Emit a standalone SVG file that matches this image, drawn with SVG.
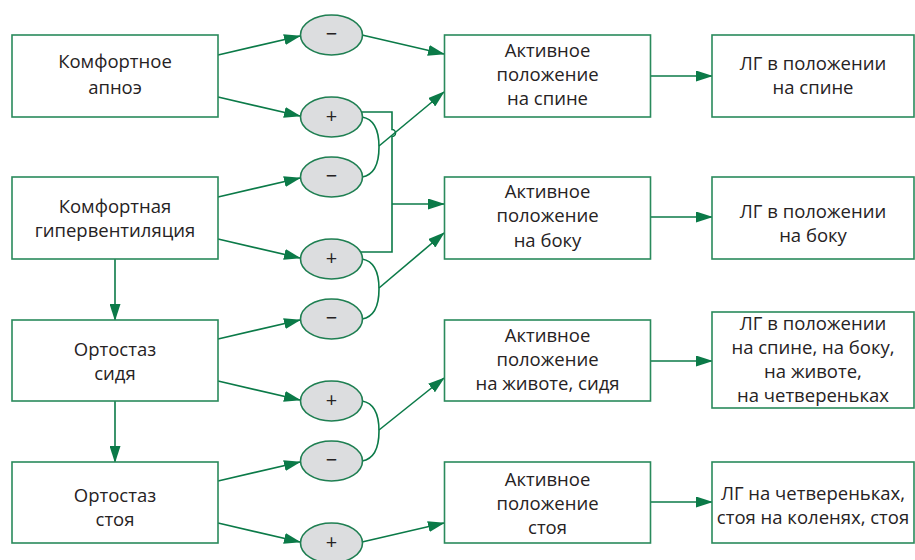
<svg xmlns="http://www.w3.org/2000/svg" width="915" height="560" viewBox="0 0 915 560">
  <style>
    .box { fill: #ffffff; stroke: #2a8a5c; stroke-width: 1.6; }
    .oval { fill: #dcdddf; stroke: #1f7f52; stroke-width: 1.6; }
    .lbl { font-family: "Open Sans", "Noto Sans", sans-serif; font-size: 18.5px; fill: #262223; text-anchor: middle; }
    .sign { font-family: "Open Sans", "Noto Sans", sans-serif; font-size: 20px; fill: #262223; text-anchor: middle; }
    .wire { fill: none; stroke: #0b7a48; stroke-width: 1.6; }
    .arr { fill: none; stroke: #0b7a48; stroke-width: 1.6; marker-end: url(#head); }
  </style>
  <defs>
    <marker id="head" viewBox="0 0 17 11" refX="16" refY="5.5" markerWidth="17" markerHeight="11" markerUnits="userSpaceOnUse" orient="auto">
      <path d="M0,0 L17,5.5 L0,11 Z" fill="#0b7a48"/>
    </marker>
  </defs>

  <rect width="915" height="560" fill="#ffffff"/>

  <!-- connectors -->
  <g id="connectors">
    <!-- left column to oval nodes -->
    <line class="arr" x1="218" y1="55" x2="300" y2="36"/>
    <line class="arr" x1="218" y1="97" x2="300" y2="116"/>
    <line class="arr" x1="218" y1="197" x2="300" y2="178"/>
    <line class="arr" x1="218" y1="239" x2="300" y2="258"/>
    <line class="arr" x1="218" y1="339" x2="300" y2="320"/>
    <line class="arr" x1="218" y1="381" x2="300" y2="400"/>
    <line class="arr" x1="218" y1="481" x2="300" y2="462"/>
    <line class="arr" x1="218" y1="523" x2="300" y2="542"/>

    <!-- vertical flow in the left column -->
    <line class="arr" x1="115" y1="259" x2="115" y2="320"/>
    <line class="arr" x1="115" y1="401" x2="115" y2="462"/>

    <!-- oval nodes to the middle column -->
    <line class="arr" x1="362" y1="35" x2="444" y2="54"/>
    <line class="arr" x1="362" y1="542" x2="444" y2="523"/>

    <!-- paired ovals joined by brackets -->
    <path class="wire" d="M362,117 C374,119 379,130 379,147 C379,164 374,175 362,177"/>
    <path class="wire" d="M362,259 C374,261 379,272 379,289 C379,306 374,317 362,319"/>
    <path class="wire" d="M362,401 C374,403 379,414 379,431 C379,448 374,459 362,461"/>
    <line class="arr" x1="379" y1="146" x2="444" y2="92"/>
    <line class="arr" x1="379" y1="288" x2="444" y2="233"/>
    <line class="arr" x1="379" y1="430" x2="444" y2="378"/>

    <!-- plus ovals feeding the lateral position, with a hop over the crossing -->
    <path class="wire" d="M361,112 H392 V129.5 A3.5,3.5 0 0 1 392,136.5 V252 H361"/>
    <line class="arr" x1="392" y1="204" x2="444" y2="204"/>

    <!-- middle column to right column -->
    <line class="arr" x1="650" y1="76" x2="712" y2="76"/>
    <line class="arr" x1="650" y1="217" x2="712" y2="217"/>
    <line class="arr" x1="650" y1="361" x2="712" y2="361"/>
    <line class="arr" x1="650" y1="502" x2="712" y2="502"/>
  </g>

  <!-- left column -->
  <g id="comfort-apnea">
    <rect class="box" x="12" y="35" width="206" height="82"/>
    <text class="lbl" x="115" y="68">Комфортное</text>
    <text class="lbl" x="115" y="94">апноэ</text>
  </g>
  <g id="comfort-hyperventilation">
    <rect class="box" x="12" y="177" width="206" height="82"/>
    <text class="lbl" x="115" y="213">Комфортная</text>
    <text class="lbl" x="115" y="237">гипервентиляция</text>
  </g>
  <g id="orthostasis-sitting">
    <rect class="box" x="12" y="320" width="206" height="81"/>
    <text class="lbl" x="115" y="356">Ортостаз</text>
    <text class="lbl" x="115" y="380">сидя</text>
  </g>
  <g id="orthostasis-standing">
    <rect class="box" x="12" y="462" width="206" height="81"/>
    <text class="lbl" x="115" y="502">Ортостаз</text>
    <text class="lbl" x="115" y="526">стоя</text>
  </g>

  <!-- oval signs -->
  <g id="sign-1"><ellipse class="oval" cx="331.5" cy="35" rx="31" ry="20"/><text class="sign" x="331.5" y="41">−</text></g>
  <g id="sign-2"><ellipse class="oval" cx="331.5" cy="117" rx="31" ry="20"/><text class="sign" x="331.5" y="123">+</text></g>
  <g id="sign-3"><ellipse class="oval" cx="331.5" cy="177" rx="31" ry="20"/><text class="sign" x="331.5" y="183">−</text></g>
  <g id="sign-4"><ellipse class="oval" cx="331.5" cy="259" rx="31" ry="20"/><text class="sign" x="331.5" y="265">+</text></g>
  <g id="sign-5"><ellipse class="oval" cx="331.5" cy="319" rx="31" ry="20"/><text class="sign" x="331.5" y="325">−</text></g>
  <g id="sign-6"><ellipse class="oval" cx="331.5" cy="401" rx="31" ry="20"/><text class="sign" x="331.5" y="407">+</text></g>
  <g id="sign-7"><ellipse class="oval" cx="331.5" cy="461" rx="31" ry="20"/><text class="sign" x="331.5" y="467">−</text></g>
  <g id="sign-8"><ellipse class="oval" cx="331.5" cy="543" rx="31" ry="20"/><text class="sign" x="331.5" y="549">+</text></g>

  <!-- middle column -->
  <g id="active-supine">
    <rect class="box" x="444.5" y="35" width="206" height="82"/>
    <text class="lbl" x="547.5" y="57">Активное</text>
    <text class="lbl" x="547.5" y="81">положение</text>
    <text class="lbl" x="547.5" y="105">на спине</text>
  </g>
  <g id="active-lateral">
    <rect class="box" x="444.5" y="177" width="206" height="82"/>
    <text class="lbl" x="547.5" y="198">Активное</text>
    <text class="lbl" x="547.5" y="222">положение</text>
    <text class="lbl" x="547.5" y="247">на боку</text>
  </g>
  <g id="active-prone-sitting">
    <rect class="box" x="444.5" y="320" width="206" height="81"/>
    <text class="lbl" x="547.5" y="342">Активное</text>
    <text class="lbl" x="547.5" y="366">положение</text>
    <text class="lbl" x="547.5" y="390">на животе, сидя</text>
  </g>
  <g id="active-standing">
    <rect class="box" x="444.5" y="462" width="206" height="81"/>
    <text class="lbl" x="547.5" y="486">Активное</text>
    <text class="lbl" x="547.5" y="510">положение</text>
    <text class="lbl" x="547.5" y="534">стоя</text>
  </g>

  <!-- right column -->
  <g id="exercise-supine">
    <rect class="box" x="712" y="35" width="202" height="82"/>
    <text class="lbl" x="813" y="70">ЛГ в положении</text>
    <text class="lbl" x="813" y="94">на спине</text>
  </g>
  <g id="exercise-lateral">
    <rect class="box" x="712" y="177" width="202" height="82"/>
    <text class="lbl" x="813" y="218">ЛГ в положении</text>
    <text class="lbl" x="813" y="242">на боку</text>
  </g>
  <g id="exercise-various">
    <rect class="box" x="712" y="312" width="202" height="96"/>
    <text class="lbl" x="813" y="330">ЛГ в положении</text>
    <text class="lbl" x="813" y="354">на спине, на боку,</text>
    <text class="lbl" x="813" y="378">на животе,</text>
    <text class="lbl" x="813" y="402">на четвереньках</text>
  </g>
  <g id="exercise-kneeling-standing">
    <rect class="box" x="712" y="462" width="202" height="81"/>
    <text class="lbl" x="813" y="500">ЛГ на четвереньках,</text>
    <text class="lbl" x="813" y="524">стоя на коленях, стоя</text>
  </g>
</svg>
